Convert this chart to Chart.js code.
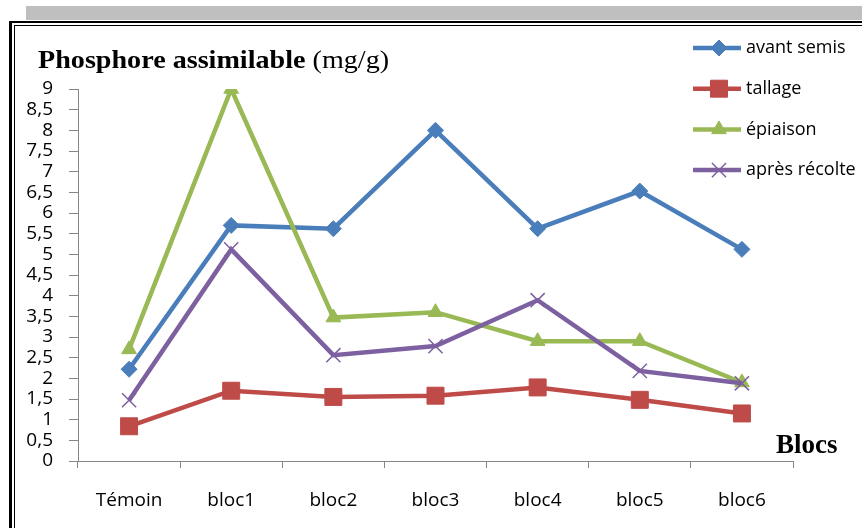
<!DOCTYPE html>
<html>
<head>
<meta charset="utf-8">
<script src="https://cdn.jsdelivr.net/npm/chart.js@4"></script>
<style>
  body { margin: 0; background: #fff; }
  #wrap { position: relative; width: 862px; height: 528px; overflow: hidden; }
  #bar { position: absolute; left: 26px; top: 6px; width: 840px; height: 14px; background: #bfbfbf; }
  #outer { position: absolute; left: 9px; top: 21px; width: 900px; height: 600px; border-left: 3px solid #000; border-top: 2px solid #000; }
  #inner { position: absolute; left: 14px; top: 25px; width: 900px; height: 600px; border-left: 1px solid #000; border-top: 1px solid #000; }
  #title { position: absolute; left: 38px; top: 46px; font-family: "Liberation Serif", serif; font-size: 25px; color: #000; white-space: nowrap; transform: scaleX(1.125); transform-origin: left top; }
  #blocs { position: absolute; left: 776px; top: 429px; font-family: "Liberation Serif", serif; font-size: 27px; font-weight: bold; }
  canvas { position: absolute; left: 0; top: 0; }
</style>
</head>
<body>
<div id="wrap">
  <div id="bar"></div>
  <div id="outer"></div>
  <div id="inner"></div>
  <canvas id="phosphore_chart" width="862" height="528"></canvas>
  <div id="title"><b>Phosphore assimilable</b> (mg/g)</div>
  <div id="blocs">Blocs</div>
</div>
<script>
const categories = ["Témoin", "bloc1", "bloc2", "bloc3", "bloc4", "bloc5", "bloc6"];
const avant_semis = [2.22, 5.7, 5.62, 8.0, 5.62, 6.53, 5.12];
const tallage = [0.84, 1.7, 1.55, 1.58, 1.78, 1.48, 1.15];
const epiaison = [2.7, 9.0, 3.47, 3.6, 2.9, 2.9, 1.9];
const apres_recolte = [1.47, 5.12, 2.56, 2.78, 3.89, 2.18, 1.88];

const font_family = "'Open Sans', sans-serif";

// legend drawn by hand at the right top corner, like the original
const side_legend =
{
    id: "side_legend",
    afterDraw(chart)
    {
        const ctx = chart.ctx;
        ctx.save();
        chart.data.datasets.forEach((ds, i) =>
        {
            const y = 48 + i * 40.7;
            ctx.strokeStyle = ds.borderColor;
            ctx.lineWidth = ds.borderWidth;
            ctx.beginPath();
            ctx.moveTo(693, y);
            ctx.lineTo(741, y);
            ctx.stroke();
            ctx.fillStyle = ds.backgroundColor;
            ctx.strokeStyle = ds.borderColor;
            ctx.lineWidth = ds.pointBorderWidth;
            Chart.helpers.drawPoint(ctx, { pointStyle: ds.pointStyle, radius: ds.pointRadius, rotation: 0, borderWidth: ds.pointBorderWidth }, 719, y);
            ctx.fillStyle = "#000";
            ctx.font = "18px " + font_family;
            ctx.textBaseline = "middle";
            ctx.textAlign = "left";
            ctx.fillText(ds.label, 746, y);
        });
        ctx.restore();
    }
};

const phosphore_chart = new Chart("phosphore_chart",
{
    type: "line",
    data:
    {
        labels: categories,
        datasets:
        [
            {
                label: "avant semis",
                data: avant_semis,
                borderColor: "#4a7ebb",
                backgroundColor: "#4a7ebb",
                borderWidth: 4.5,
                pointStyle: "rectRot",
                pointRadius: 8,
                pointBorderWidth: 1,
                order: 4
            },
            {
                label: "tallage",
                data: tallage,
                borderColor: "#be4b48",
                backgroundColor: "#be4b48",
                borderWidth: 4.5,
                pointStyle: "rect",
                pointRadius: 12,
                pointBorderWidth: 1,
                order: 3
            },
            {
                label: "épiaison",
                data: epiaison,
                borderColor: "#98b954",
                backgroundColor: "#98b954",
                borderWidth: 4.5,
                pointStyle: "triangle",
                pointRadius: 8.5,
                pointBorderWidth: 1,
                order: 2
            },
            {
                label: "après récolte",
                data: apres_recolte,
                borderColor: "#7d60a0",
                backgroundColor: "#7d60a0",
                borderWidth: 4.5,
                pointStyle: "crossRot",
                pointRadius: 10,
                pointBorderWidth: 1.5,
                order: 1
            }
        ]
    },
    options:
    {
        responsive: false,
        animation: false,
        layout:
        {
            padding: { left: 0, top: 89, right: 69, bottom: 17 }
        },
        plugins:
        {
            legend: { display: false },
            tooltip: { enabled: false }
        },
        scales:
        {
            x:
            {
                offset: true,
                afterFit(scale) { scale.height = 50; },
                border: { color: "#868686", width: 1 },
                grid:
                {
                    offset: true,
                    drawOnChartArea: false,
                    tickLength: 7,
                    color: "#868686"
                },
                ticks:
                {
                    color: "#000",
                    padding: 21,
                    maxRotation: 0,
                    font: { family: font_family, size: 19 }
                }
            },
            y:
            {
                min: 0,
                max: 9,
                afterFit(scale) { scale.width = 78; },
                border: { color: "#868686", width: 1 },
                grid:
                {
                    drawOnChartArea: false,
                    tickLength: 9,
                    color: "#868686"
                },
                ticks:
                {
                    stepSize: 0.5,
                    autoSkip: false,
                    color: "#000",
                    padding: 16,
                    font: { family: font_family, size: 19 },
                    callback: (value) => String(value).replace(".", ",")
                }
            }
        }
    },
    plugins: [side_legend]
});
</script>
</body>
</html>
